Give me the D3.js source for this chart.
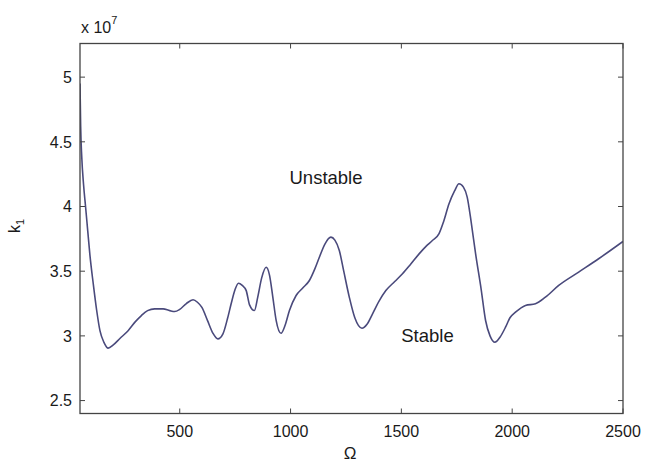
<!DOCTYPE html>
<html>
<head>
<meta charset="utf-8">
<title>k1 vs Omega</title>
<style>
  body { margin: 0; background: #fff; }
  svg text { font-family: "Liberation Sans", Arial, sans-serif; fill: #1a1a1a; }
</style>
</head>
<body>
<svg width="645" height="465"></svg>
<script src="https://d3js.org/d3.v7.min.js"></script>
<script>
// Omega values (x) and k1 values in units of 1e7 (y)
const omega = [50, 53, 58, 66, 75, 85, 95, 110, 125, 140, 158, 177, 200, 230, 267, 300, 327, 355, 387, 425,
  455, 477, 500, 530, 560, 580, 600, 625, 650, 672, 695, 715, 732, 750, 765, 782, 800, 815, 837, 852,
  870, 890, 905, 920, 935, 957, 975, 995, 1025, 1055, 1085, 1110, 1130, 1155, 1182, 1200, 1220, 1240, 1265, 1290,
  1322, 1345, 1370, 1400, 1430, 1470, 1505, 1540, 1580, 1610, 1640, 1670, 1690, 1715, 1740, 1760, 1780, 1797, 1815, 1835,
  1860, 1880, 1900, 1922, 1945, 1970, 1990, 2015, 2060, 2105, 2150, 2210, 2300, 2390, 2500];
const k1 = [4.95, 4.62, 4.38, 4.17, 4.0, 3.81, 3.62, 3.4, 3.2, 3.04, 2.95, 2.905, 2.93, 2.98, 3.04, 3.11, 3.157, 3.195, 3.209, 3.209,
  3.195, 3.188, 3.205, 3.25, 3.279, 3.26, 3.22, 3.12, 3.02, 2.977, 3.016, 3.13, 3.248, 3.36, 3.407, 3.39, 3.35, 3.24, 3.196, 3.3,
  3.45, 3.53, 3.47, 3.3, 3.12, 3.02, 3.08, 3.196, 3.312, 3.37, 3.428, 3.52, 3.608, 3.71, 3.763, 3.74, 3.66, 3.5, 3.3, 3.14,
  3.059, 3.09, 3.17, 3.27, 3.35, 3.42, 3.48, 3.55, 3.634, 3.69, 3.737, 3.79, 3.88, 4.021, 4.12, 4.176, 4.15, 4.073, 3.88, 3.634,
  3.36, 3.119, 3.0, 2.951, 2.99, 3.067, 3.14, 3.183, 3.235, 3.248, 3.299, 3.39, 3.493, 3.596, 3.73];

const xTicks = [500, 1000, 1500, 2000, 2500];
const yTicks = [2.5, 3, 3.5, 4, 4.5, 5];

const svg = d3.select("svg");
const plotL = 80, plotT = 43.5, plotR = 623, plotB = 413.5;

const x = d3.scaleLinear().domain([50, 2500]).range([plotL, plotR]);
const y = d3.scaleLinear().domain([2.4, 5.26]).range([plotB, plotT]);

const data = omega.map((o, i) => ({ o: o, k: k1[i] }));

svg.append("clipPath").attr("id", "clip")
  .append("rect").attr("x", plotL).attr("y", plotT).attr("width", plotR - plotL).attr("height", plotB - plotT);

const line = d3.line().x(d => x(d.o)).y(d => y(d.k)).curve(d3.curveMonotoneX);

svg.append("path")
  .datum(data)
  .attr("clip-path", "url(#clip)")
  .attr("d", line)
  .attr("fill", "none")
  .attr("stroke", "#4a4a7c")
  .attr("stroke-width", 1.6);

// box
svg.append("rect")
  .attr("x", plotL).attr("y", plotT)
  .attr("width", plotR - plotL).attr("height", plotB - plotT)
  .attr("fill", "none").attr("stroke", "#444").attr("stroke-width", 1.3);

// ticks, inside, on all four sides
const tickLen = 5;
const axisColor = "#444";
xTicks.forEach(t => {
  svg.append("line").attr("x1", x(t)).attr("x2", x(t)).attr("y1", plotB).attr("y2", plotB - tickLen)
    .attr("stroke", axisColor);
  svg.append("line").attr("x1", x(t)).attr("x2", x(t)).attr("y1", plotT).attr("y2", plotT + tickLen)
    .attr("stroke", axisColor);
  svg.append("text").attr("x", x(t)).attr("y", 437)
    .attr("text-anchor", "middle").attr("font-size", 16).text(t);
});
yTicks.forEach(t => {
  svg.append("line").attr("x1", plotL).attr("x2", plotL + tickLen).attr("y1", y(t)).attr("y2", y(t))
    .attr("stroke", axisColor);
  svg.append("line").attr("x1", plotR).attr("x2", plotR - tickLen).attr("y1", y(t)).attr("y2", y(t))
    .attr("stroke", axisColor);
  svg.append("text").attr("x", 72).attr("y", y(t)).attr("dy", "0.36em")
    .attr("text-anchor", "end").attr("font-size", 16).text(t);
});

// exponent label
const ex = svg.append("text").attr("x", 81).attr("y", 33).attr("font-size", 16);
ex.append("tspan").text("x 10");
ex.append("tspan").attr("dy", -9).attr("font-size", 11).text("7");

// axis labels
svg.append("text").attr("x", 350).attr("y", 459).attr("text-anchor", "middle")
  .attr("font-size", 17).text("\u03A9");
const yl = svg.append("text").attr("transform", "translate(20,226) rotate(-90)")
  .attr("text-anchor", "middle").attr("font-size", 16);
yl.append("tspan").text("k");
yl.append("tspan").attr("dy", 4).attr("font-size", 11).text("1");

// region annotations
svg.append("text").attr("x", 326).attr("y", 183.5).attr("text-anchor", "middle")
  .attr("font-size", 18.5).text("Unstable");
svg.append("text").attr("x", 427.5).attr("y", 342).attr("text-anchor", "middle")
  .attr("font-size", 18.5).text("Stable");
</script>
</body>
</html>
